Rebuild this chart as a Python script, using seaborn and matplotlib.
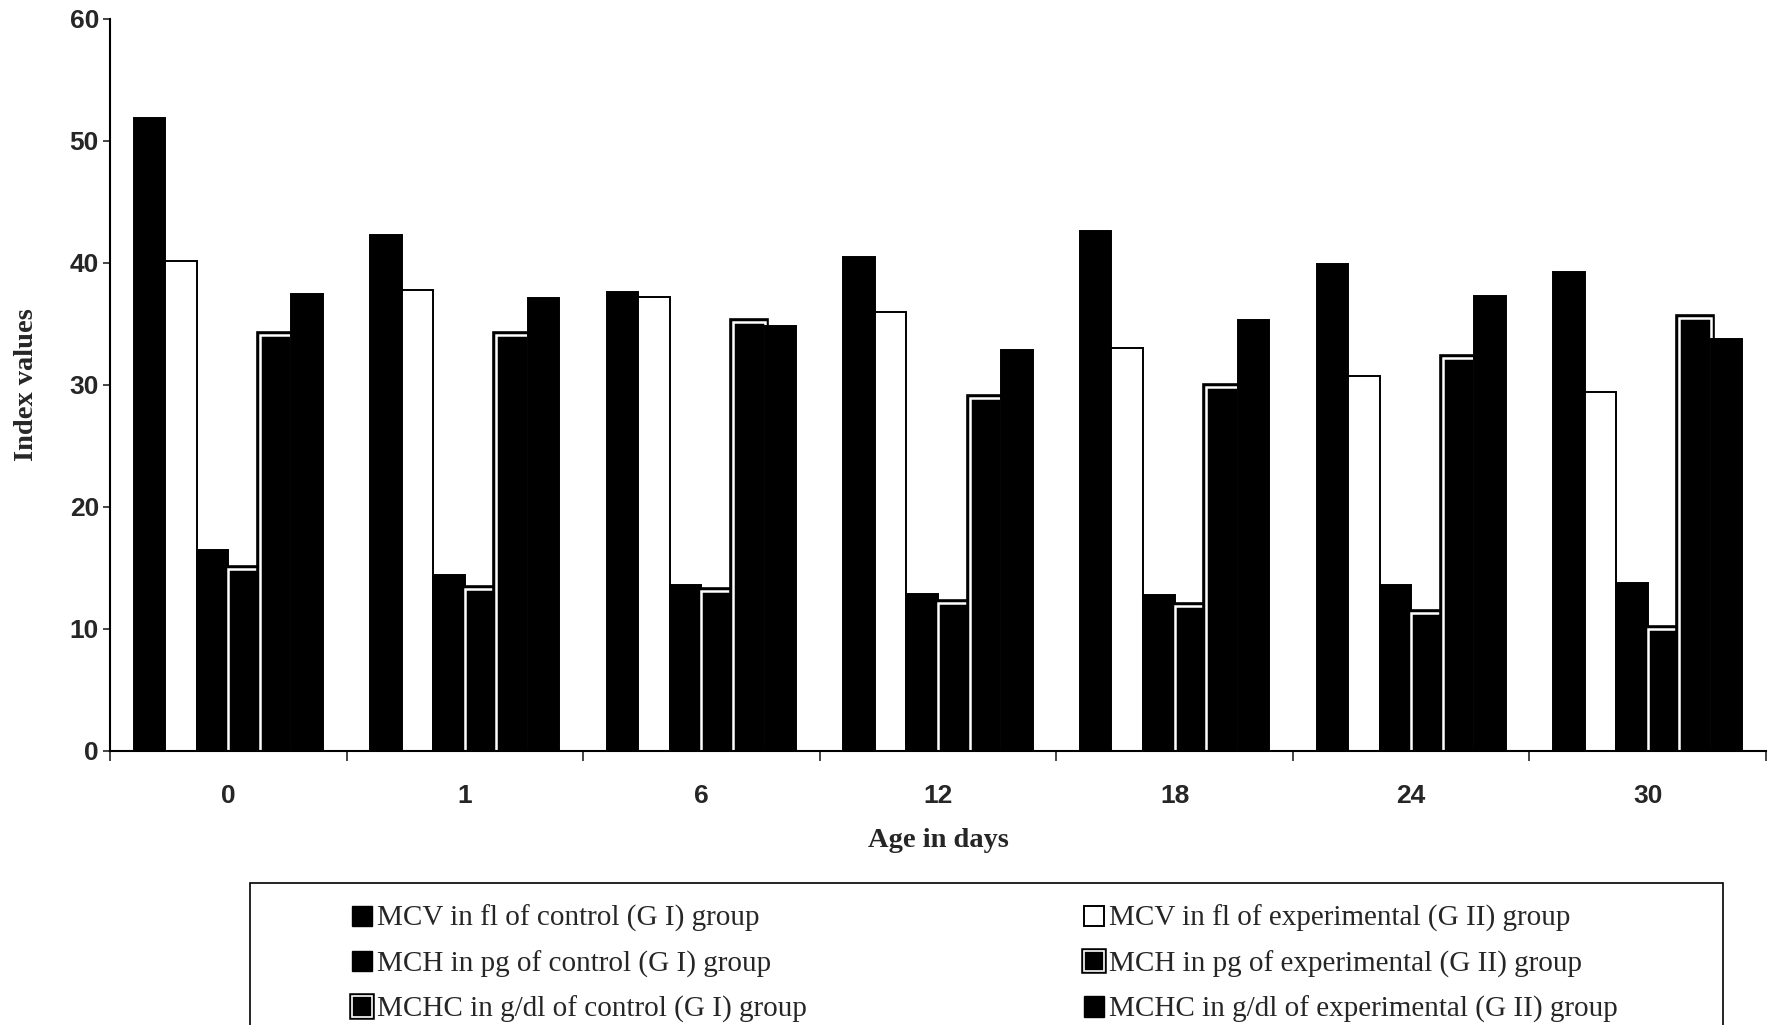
import numpy as np
import pandas as pd
import matplotlib
matplotlib.use("Agg")
import matplotlib.pyplot as plt
import matplotlib.patheffects as pe
from matplotlib.patches import Patch, Rectangle
import seaborn as sns

# ---- data ----
days = ["0", "1", "6", "12", "18", "24", "30"]
series_names = [
    "MCV in fl of control (G I) group",
    "MCV in fl of experimental (G II) group",
    "MCH in pg of control (G I) group",
    "MCH in pg of experimental (G II) group",
    "MCHC in g/dl of control (G I) group",
    "MCHC in g/dl of experimental (G II) group",
]
mcv_control = [51.9, 42.3, 37.6, 40.5, 42.6, 39.9, 39.3]
mcv_exp = [40.2, 37.8, 37.2, 36.0, 33.0, 30.7, 29.4]
mch_control = [16.5, 14.4, 13.6, 12.9, 12.8, 13.6, 13.8]
mch_exp = [14.9, 13.3, 13.1, 12.1, 11.9, 11.3, 10.0]
mchc_control = [34.1, 34.1, 35.2, 28.9, 29.8, 32.2, 35.5]
mchc_exp = [37.5, 37.1, 34.8, 32.9, 35.3, 37.3, 33.8]
yticks = [0, 10, 20, 30, 40, 50, 60]

values = [mcv_control, mcv_exp, mch_control, mch_exp, mchc_control, mchc_exp]
df = pd.DataFrame({
    "day": np.tile(days, len(series_names)),
    "value": np.concatenate(values),
    "series": np.repeat(series_names, len(days)),
})

sns.set_style("ticks")
plt.rcParams["font.family"] = ["Liberation Serif", "DejaVu Serif"]

W, H = 1768, 1025
fig = plt.figure(figsize=(W / 100, H / 100), dpi=100)
ax = fig.add_axes([110 / W, 1 - 751 / H, (1766 - 110) / W, (751 - 19) / H])

palette = ["black", "white", "black", "black", "black", "black"]
sns.barplot(data=df, x="day", y="value", hue="series", order=days,
            hue_order=series_names, palette=palette, saturation=1,
            width=0.8, edgecolor="black", linewidth=1.4, errorbar=None,
            legend=False, ax=ax)

framed = [pe.Stroke(linewidth=5.5, foreground="black"), pe.Normal()]
for idx in (3, 4):
    for bar in ax.containers[idx]:
        bar.set_edgecolor("white")
        bar.set_linewidth(1.8)
        bar.set_path_effects(framed)

ax.set_ylim(0, 60)
ax.set_xlim(-0.5, 6.5)
ax.set_yticks(yticks)
ax.set_yticklabels([str(v) for v in yticks])
for s in ("top", "right"):
    ax.spines[s].set_visible(False)
for s in ("left", "bottom"):
    ax.spines[s].set_linewidth(1.5)
    ax.spines[s].set_color("black")

ax.tick_params(axis="y", length=5, width=1.2, pad=3, labelsize=19)
ax.tick_params(axis="x", which="major", length=0, pad=24, labelsize=19)
ax.set_xticks(np.arange(-0.5, 7, 1), minor=True)
ax.tick_params(axis="x", which="minor", length=7, width=1.2, direction="out")
for lab in ax.get_xticklabels() + ax.get_yticklabels():
    lab.set_fontfamily(["Liberation Sans", "DejaVu Sans"])
    lab.set_fontweight("bold")

ax.set_xlabel("Age in days", fontsize=20.5, fontweight="bold", labelpad=14)
ax.set_ylabel("Index values", fontsize=20.5, fontweight="bold")
ax.yaxis.set_label_coords(-0.043, 0.5)

# ---- legend ----
leg_fx = [pe.Stroke(linewidth=4, foreground="black"), pe.Normal()]
styles = [
    dict(facecolor="black", edgecolor="black"),
    dict(facecolor="white", edgecolor="black", linewidth=1.4),
    dict(facecolor="black", edgecolor="black"),
    dict(facecolor="black", edgecolor="white", linewidth=1.2, path_effects=leg_fx),
    dict(facecolor="black", edgecolor="white", linewidth=1.2, path_effects=leg_fx),
    dict(facecolor="black", edgecolor="black"),
]
handles = [Patch(label=n, **st) for n, st in zip(series_names, styles)]
order = [0, 2, 4, 1, 3, 5]
fig.legend([handles[i] for i in order], [series_names[i] for i in order],
           ncol=2, loc="upper left", bbox_to_anchor=(352 / W, 1 - 905 / H),
           frameon=False, fontsize=21, handlelength=0.7, handleheight=0.7,
           handletextpad=0.15, columnspacing=9.5, labelspacing=0.62,
           borderpad=0, borderaxespad=0)
fig.add_artist(Rectangle((250 / W, -0.02), 1473 / W, 0.02 + 1 - 883 / H,
                         transform=fig.transFigure, fill=False,
                         edgecolor="black", linewidth=1.2))

fig.savefig("out.png", dpi=100)
